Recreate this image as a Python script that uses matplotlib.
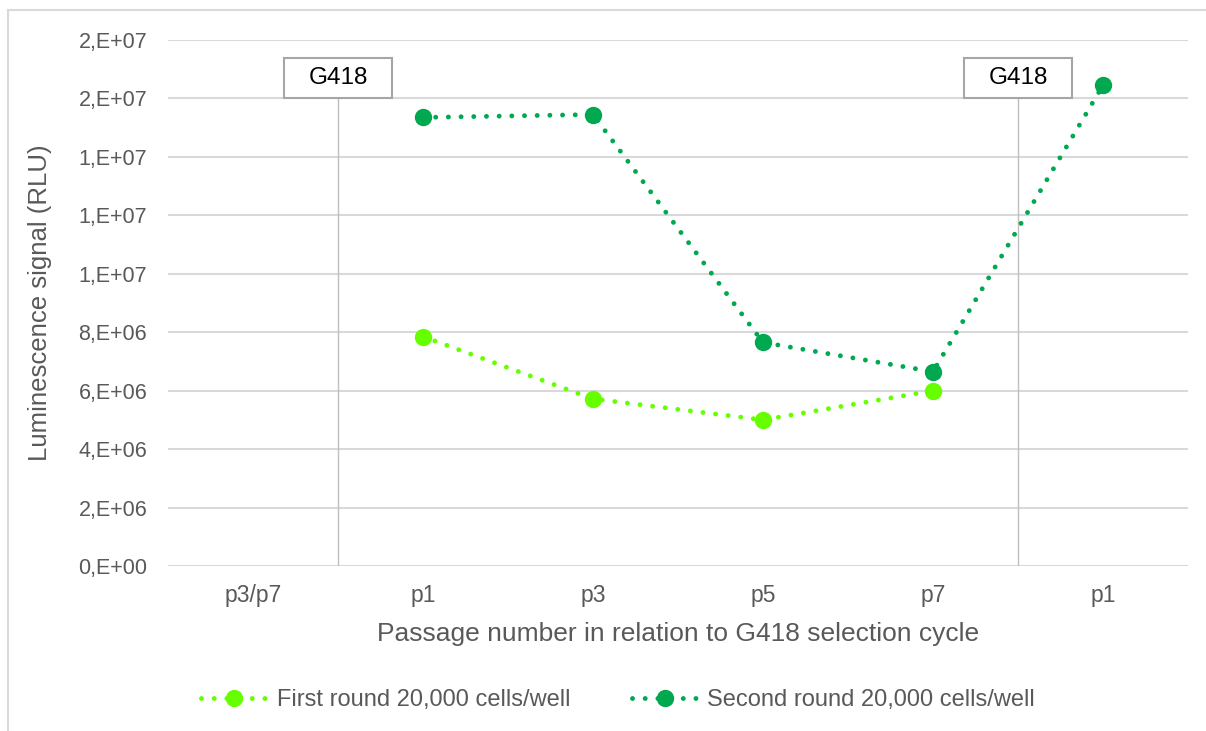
import matplotlib.pyplot as plt
from matplotlib.patches import Rectangle
from matplotlib.ticker import FuncFormatter

plt.rcParams['font.family'] = ['Liberation Sans', 'DejaVu Sans']

passages = ['p3/p7', 'p1', 'p3', 'p5', 'p7', 'p1']
first_round = [None, 7.85e6, 5.72e6, 5.0e6, 6.0e6, None]
second_round = [None, 15.35e6, 15.45e6, 7.65e6, 6.65e6, 16.45e6]
g418_marks = [0.5, 4.5]
yticks = [0, 2e6, 4e6, 6e6, 8e6, 10e6, 12e6, 14e6, 16e6, 18e6]

light_green = '#66ff00'
dark_green = '#00a84f'
grid_grey = '#d9d9d9'
text_grey = '#595959'


def excel_sci(v, pos):
    return '{:.0E}'.format(v).replace('E', ',E')


fig = plt.figure(figsize=(12.06, 7.31), dpi=100)
fig.patches.append(Rectangle((8 / 1206, -0.1), 1.2, 1 - 10 / 731 + 0.1,
                             transform=fig.transFigure, fill=False,
                             edgecolor=grid_grey, lw=1.5))

ax = fig.add_axes([168 / 1206, 1 - 566 / 731, 1020 / 1206, 526 / 731])
x = list(range(len(passages)))

dots = (0, (0.01, 2.6))
for series, color, label in [(first_round, light_green, 'First round 20,000 cells/well'),
                             (second_round, dark_green, 'Second round 20,000 cells/well')]:
    xs = [i for i, v in zip(x, series) if v is not None]
    ys = [v for v in series if v is not None]
    ax.plot(xs, ys, linestyle=dots, dash_capstyle='round', lw=3.5, color=color,
            marker='o', markersize=11.5, label=label, zorder=3)

# G418 selection markers
box_w = 0.64
box_h = 1.37e6
for gx in g418_marks:
    ax.plot([gx, gx], [0, 16e6], color='#bfbfbf', lw=1, zorder=1)
    ax.add_patch(Rectangle((gx - box_w / 2, 16e6), box_w, box_h, facecolor='white',
                           edgecolor='#a6a6a6', lw=1.5, zorder=4, clip_on=False))
    ax.text(gx, 16e6 + box_h / 2, 'G418', ha='center', va='center', fontsize=17.5,
            color='black', zorder=5)

ax.set_xlim(-0.5, len(passages) - 0.5)
ax.set_ylim(0, 18e6)
ax.set_yticks(yticks)
ax.yaxis.set_major_formatter(FuncFormatter(excel_sci))
ax.set_xticks(x)
ax.set_xticklabels(passages)
ax.grid(axis='y', color=grid_grey, lw=1.5)
ax.set_axisbelow(True)
for s in ax.spines.values():
    s.set_visible(False)
ax.tick_params(length=0, labelcolor=text_grey)
ax.tick_params(axis='x', pad=13, labelsize=16.5)
ax.tick_params(axis='y', pad=15, labelsize=15.5)

ax.set_ylabel('Luminescence signal (RLU)', fontsize=18.5, color=text_grey, labelpad=19)
ax.set_xlabel('Passage number in relation to G418 selection cycle', fontsize=19,
              color=text_grey, labelpad=11)

fig.legend(loc='center', bbox_to_anchor=(618 / 1206, 1 - 700 / 731), ncol=2,
           frameon=False, fontsize=17, handlelength=2.8, handletextpad=0.4,
           columnspacing=2.6, labelcolor=text_grey)

fig.savefig('out.png', dpi=100)
